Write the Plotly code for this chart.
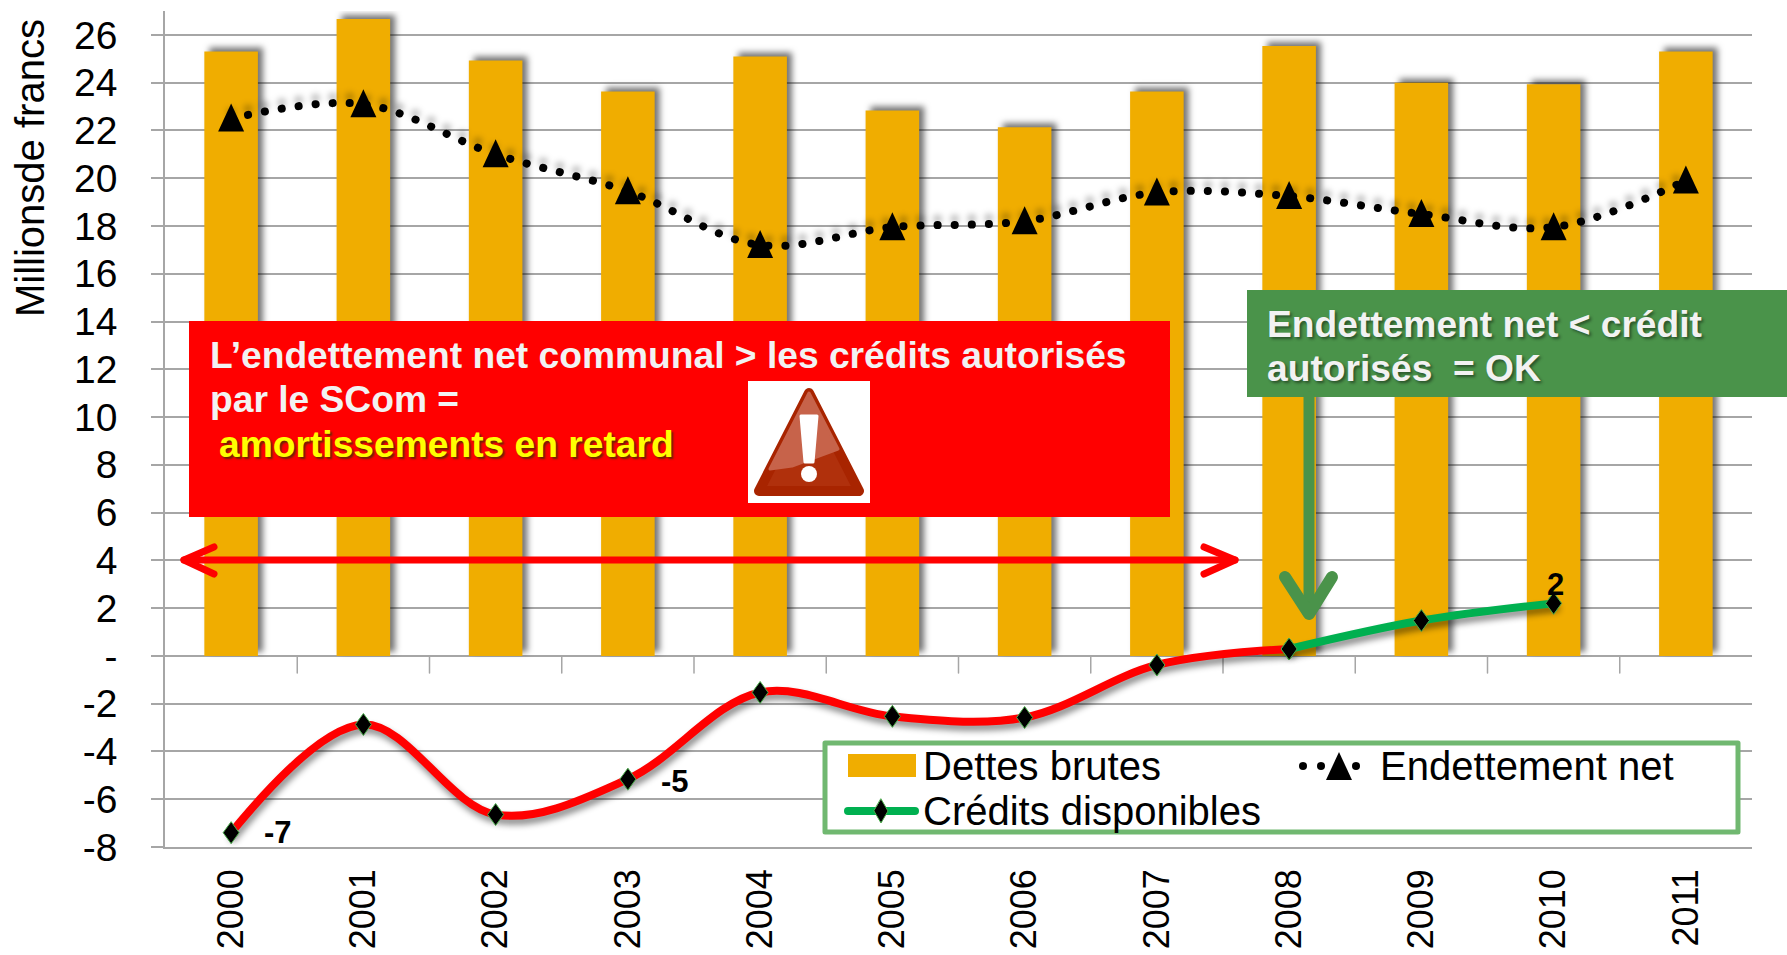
import plotly.graph_objects as go

years = list(range(2000, 2012))
dettes_brutes = [25.3, 26.67, 24.93, 23.63, 25.1, 22.83, 22.13, 23.63, 25.53, 24.0, 23.93, 25.3]
endettement_net = [22.5, 23.1, 21.0, 19.45, 17.2, 17.95, 18.2, 19.4, 19.25, 18.5, 17.95, 19.9]
credits_rouge_x = years[:9]
credits_rouge = [-7.4, -2.87, -6.64, -5.16, -1.53, -2.53, -2.58, -0.38, 0.29]
credits_vert_x = years[8:11]
credits_vert = [0.29, 1.48, 2.2]
y_ticks = list(range(-8, 28, 2))
y_labels = [("-" if v == 0 else str(v)) for v in y_ticks]
labels_points = [(2000, -7.4, "-7", 47, 0), (2003, -5.16, "-5", 47, -2), (2010, 2.2, "2", 2, 19)]
tick_bounds = [1999.5 + i for i in range(1, 12)]

L, R, T, B = 165, 1752, 11, 847
W, H = 1787, 955
def px(x): return (x - L) / (R - L)
def py(y): return (B - y) / (B - T)
def path(points, close=False):
    s = "M" + " L".join(f"{px(a):.5f},{py(b):.5f}" for a, b in points)
    return s + (" Z" if close else "")

FONT = "Liberation Sans, Arial, sans-serif"
GRID = "#a6a6a6"
ORANGE = "#f0ad00"
RED = "#ff0000"
GREEN = "#00b050"
BOXGREEN = "#4a934a"

fig = go.Figure()
fig.add_trace(go.Bar(x=years, y=dettes_brutes, name="Dettes brutes", width=0.405, showlegend=False,
                     marker=dict(color=ORANGE, line=dict(width=0))))
fig.add_trace(go.Scatter(x=years, y=endettement_net, name="Endettement net", mode="lines+markers", showlegend=False,
                         line=dict(color="black", width=8, dash="0.1px,17px", shape="spline", smoothing=1),
                         marker=dict(symbol="triangle-up", size=25, color="black")))
fig.add_trace(go.Scatter(x=credits_rouge_x, y=credits_rouge, name="Crédits disponibles", showlegend=False, mode="lines+markers",
                         line=dict(color=RED, width=8, shape="spline", smoothing=1),
                         marker=dict(symbol="diamond-tall", size=15, color="black",
                                     line=dict(color="#4cae4c", width=1))))
fig.add_trace(go.Scatter(x=credits_vert_x, y=credits_vert, name="Crédits disponibles", showlegend=False, mode="lines+markers",
                         line=dict(color=GREEN, width=8, shape="spline", smoothing=1),
                         marker=dict(symbol="diamond-tall", size=15, color="black",
                                     line=dict(color="#4cae4c", width=1))))

shapes = []
def rect(x0, y0, x1, y1, fill, line=None):
    shapes.append(dict(type="rect", xref="paper", yref="paper", x0=px(x0), x1=px(x1), y0=py(y0), y1=py(y1),
                       fillcolor=fill, line=line or dict(width=0)))
def poly(pts, fill=None, color=None, width=0, close=True):
    d = dict(type="path", xref="paper", yref="paper", path=path(pts, close), line=dict(color=color or fill, width=width))
    if fill:
        d["fillcolor"] = fill
    shapes.append(d)
def disc(cx, cy, r, fill):
    shapes.append(dict(type="circle", xref="paper", yref="paper", x0=px(cx - r), x1=px(cx + r), y0=py(cy + r), y1=py(cy - r),
                       fillcolor=fill, line=dict(width=0)))

for b in tick_bounds:
    shapes.append(dict(type="line", xref="x", yref="y", x0=b, x1=b, y0=0, y1=-0.72,
                       line=dict(color=GRID, width=1.5), layer="below"))
# red box and warning icon
rect(189, 321, 1170, 517, RED)
rect(748, 381, 870, 503, "white")
poly([(809, 393), (859, 491), (759, 491)], fill="#b0300c", color="#a82400", width=10)
poly([(809, 393), (838, 449), (792, 466), (770, 469)], fill="#c7634a", color="#c7634a", width=3)
poly([(801, 416), (817, 416), (813, 462), (805, 462)], fill="white", color="white", width=3)
disc(809, 474, 8, "white")
# green box
rect(1247, 290, 1787, 397, BOXGREEN)
# red double arrow
poly([(184, 560), (1235, 560)], color=RED, width=7, close=False)
poly([(214, 547), (184, 560), (214, 574)], color=RED, width=7, close=False)
poly([(1204, 547), (1235, 560), (1204, 574)], color=RED, width=7, close=False)
# green arrow
poly([(1309, 397), (1309, 600)], color=BOXGREEN, width=11, close=False)
poly([(1285, 577), (1309, 614), (1332, 577)], color=BOXGREEN, width=12, close=False)
# legend
rect(825, 743, 1738, 832, "white", dict(color="#70b870", width=5))
rect(848, 754, 916, 777, ORANGE)
for cx in (1303, 1321, 1356):
    disc(cx, 766, 4, "black")
poly([(1326, 780), (1352, 780), (1339, 752)], fill="black")
poly([(848, 811), (915, 811)], color=GREEN, width=8, close=False)
poly([(881, 799), (888, 811), (881, 823), (874, 811)], fill="black", color="#4cae4c", width=1)

annotations = []
def note(text, x, y, size=37.2, color="#f2f2f2", shadow="2px 2px 3px rgba(0,0,0,0.45)", weight="bold"):
    annotations.append(dict(text=text, xref="paper", yref="paper", x=px(x), y=py(y), xanchor="left", yanchor="middle",
                            showarrow=False, font=dict(family=FONT, size=size, color=color, weight=weight, shadow=shadow)))
note("L’endettement net communal &gt; les crédits autorisés", 208, 355, shadow="none")
note("par le SCom =", 208, 399, shadow="none")
note("amortissements en retard", 217, 444, color="#ffff00", shadow="2px 2px 2px rgba(90,40,0,0.9)")
note("Endettement net &lt; crédit", 1265, 324)
note("autorisés  = OK", 1265, 368)
note("Dettes brutes", 921, 766, size=40, color="black", shadow="none", weight="normal")
note("Endettement net", 1378, 766, size=40, color="black", shadow="none", weight="normal")
note("Crédits disponibles", 921, 811, size=40, color="black", shadow="none", weight="normal")
for x, y, t, dx, dy in labels_points:
    annotations.append(dict(x=x, y=y, xref="x", yref="y", text=t, showarrow=False, xshift=dx, yshift=dy,
                            font=dict(family=FONT, size=31, color="black", weight="bold")))
annotations.append(dict(text="Millionsde francs", xref="paper", yref="paper", x=px(30), y=py(168), textangle=-90,
                        xanchor="center", yanchor="middle",
                        showarrow=False, font=dict(family=FONT, size=40, color="black")))

fig.update_layout(
    width=W, height=H, autosize=False, showlegend=False,
    margin=dict(l=L, r=W - R, t=T, b=H - B, pad=0),
    paper_bgcolor="white", plot_bgcolor="white",
    font=dict(family=FONT, color="black", size=36),
    shapes=shapes, annotations=annotations,
    xaxis=dict(range=[1999.5, 2011.5], tickvals=years, ticktext=[str(y) for y in years], tickangle=-90,
               showgrid=False, zeroline=False, showline=True, linecolor=GRID, linewidth=1.5, automargin=False,
               ticks="", ticklabelstandoff=6, tickfont=dict(size=36)),
    yaxis=dict(range=[-8, 27], tickvals=y_ticks, ticktext=y_labels, showgrid=True, gridcolor=GRID, gridwidth=1.5,
               zeroline=False, showline=True, linecolor=GRID, linewidth=1.5, automargin=False,
               ticks="outside", ticklen=12, tickcolor=GRID, tickwidth=1.5, ticklabelstandoff=26,
               tickfont=dict(size=39)),
    bargap=0.59,
)

css = """
body{margin:0;padding:0;overflow:hidden}
.barlayer .point path{filter:drop-shadow(5px -4px 3px rgba(0,0,0,.55))}
.scatterlayer .trace:nth-child(1) .js-line{filter:drop-shadow(0 -6px 3px rgba(0,0,0,.3))}
.scatterlayer .trace:nth-child(n+2) .js-line{filter:drop-shadow(2px 5px 3px rgba(0,0,0,.45))}
.js-line{stroke-linecap:round}
.shapelayer path{stroke-linecap:round;stroke-linejoin:round}
.scatterlayer .trace:nth-child(1) .point{d:path("M-13,13 L13,13 L0,-15 Z") !important}
.scatterlayer .trace:nth-child(n+2) .point{d:path("M-8,0 L0,-11 L8,0 L0,11 Z") !important}
"""
post = "var s=document.createElement('style');s.textContent=" + repr(css.replace("\n", " ")) + ";document.head.appendChild(s);"
fig.write_html("out.html", post_script=post, config=dict(displayModeBar=False))
